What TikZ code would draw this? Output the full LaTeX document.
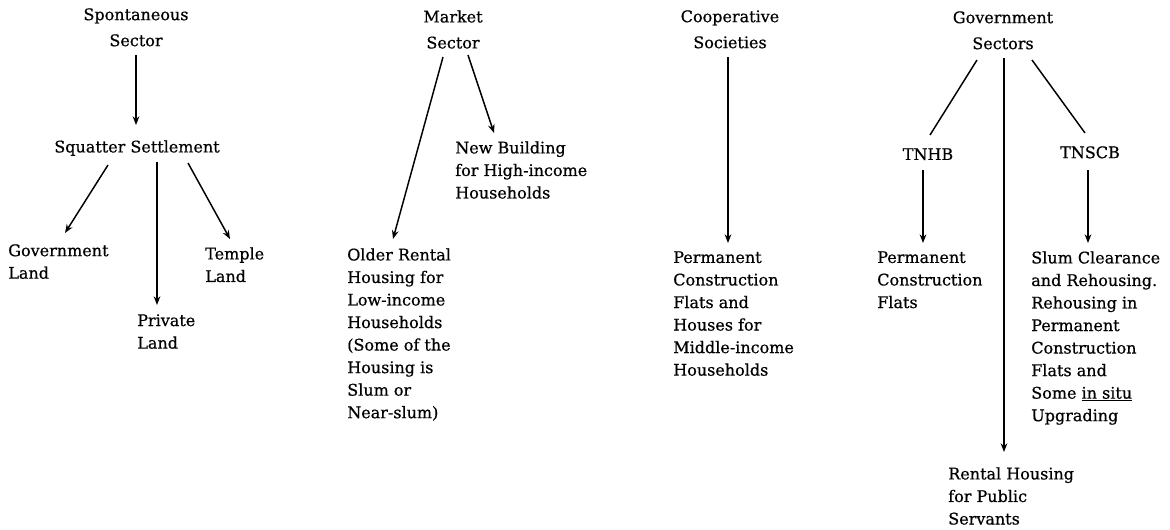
\documentclass[tikz,border=0pt]{standalone}
\usepackage{fontspec}
\setmainfont[FakeBold=0.6]{DejaVu Serif}
\usetikzlibrary{arrows.meta,calc}
\begin{document}
\begin{tikzpicture}[x=0.75pt,y=-0.75pt,
  lbl/.style={font=\fontsize{12}{16.9}\selectfont, inner sep=0pt, align=left, anchor=north west},
  hdr/.style={font=\fontsize{12}{19.5}\selectfont, inner sep=0pt, align=center, anchor=north},
  arr/.style={-{Stealth[length=6.5pt,width=5pt]}, line width=1.1pt},
  ln/.style={line width=1.1pt}]
\useasboundingbox (0,0) rectangle (1170,529);
% column 1
\node[hdr] (sp) at (136,8) {Spontaneous\\Sector};
\node[hdr] (sq) at (137,140) {Squatter Settlement};
\node[lbl] (gl) at (8,244) {Government\\Land};
\node[lbl] (pl) at (137,314) {Private\\Land};
\node[lbl] (tl) at (205,247) {Temple\\Land};
% column 2
\node[hdr] (ms) at (453,10) {Market\\Sector};
\node[lbl] (nb) at (455,141) {New Building\\for High-income\\Households};
\node[lbl] (ol) at (347,248) {Older Rental\\Housing for\\Low-income\\Households\\(Some of the\\Housing is\\Slum or\\Near-slum)};
% column 3
\node[hdr] (cs) at (730,10) {Cooperative\\Societies};
\node[lbl] (pc) at (673,251) {Permanent\\Construction\\Flats and\\Houses for\\Middle-income\\Households};
% column 4
\node[hdr] (gs) at (1003,11) {Government\\Sectors};
\node[hdr] (tnhb) at (928,148) {TNHB};
\node[hdr] (tnscb) at (1090,146) {TNSCB};
\node[lbl] (pcf) at (877,251) {Permanent\\Construction\\Flats};
\node[lbl] (sc) at (1031,251) {Slum Clearance\\and Rehousing.\\Rehousing in\\Permanent\\Construction\\Flats and\\Some \underline{in situ}\\Upgrading};
\node[lbl] (rh) at (948,467) {Rental Housing\\for Public\\Servants};
% connectors
\draw[arr, line width=1.7pt] ($(sp.north)+(0,47)$) -- ($(sq.north)+(-1,-15)$);
\draw[arr] ($(sq.north)+(-29,25)$) -- ($(gl.north west)+(57,-11)$);
\draw[arr] ($(sq.north)+(20,22)$) -- ($(pl.north west)+(20,-9)$);
\draw[arr] ($(sq.north)+(51,23)$) -- ($(tl.north west)+(25,-8)$);
\draw[arr] ($(ms.north)+(-10,47)$) -- ($(ol.north west)+(46,-9)$);
\draw[arr] ($(ms.north)+(15,45)$) -- ($(nb.north west)+(39,-8)$);
\draw[arr] ($(cs.north)+(-2,47)$) -- ($(pc.north west)+(55,-8)$);
\draw[ln] ($(gs.north)+(-26,49)$) -- ($(tnhb.north)+(2,-13)$);
\draw[ln] ($(gs.north)+(29,49)$) -- ($(tnscb.north)+(-5,-13)$);
\draw[arr] ($(gs.north)+(1,47)$) -- ($(rh.north west)+(56,-15)$);
\draw[arr] ($(tnhb.north)+(-5,22)$) -- ($(pcf.north west)+(46,-8)$);
\draw[arr] ($(tnscb.north)+(-2,24)$) -- ($(sc.north west)+(57,-8)$);
\end{tikzpicture}
\end{document}
